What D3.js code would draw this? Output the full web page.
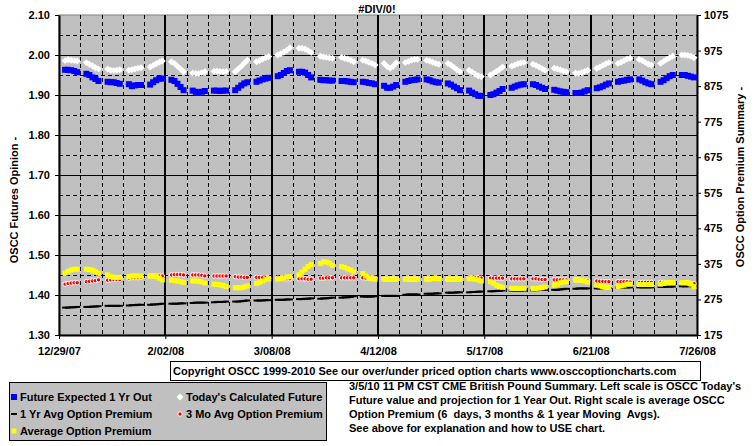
<!DOCTYPE html>
<html><head><meta charset="utf-8">
<script src="https://cdn.jsdelivr.net/npm/d3@7"></script>
<style>
body{margin:0;background:#fff;}
svg text{font-family:Arial,"Liberation Sans",sans-serif;font-weight:bold;font-size:11px;fill:#000;}
</style></head>
<body><svg id="c" width="755" height="446"></svg>
<script>
// ---- data (weekday observations, Mon..Fri, starting 12/31/07) ----
const startDate = new Date(2007, 11, 31);
const endDate = new Date(2008, 6, 26);
const futureExpected = [
1.963,1.963,1.962,1.960,1.957, 1.953,1.950,1.944,1.940,1.935, 1.933,1.932,1.932,1.930,1.928,
1.927,1.922,1.924,1.925,1.925, 1.926,1.932,1.937,1.941,1.941, 1.938,1.935,1.928,1.920,1.912,
1.911,1.908,1.905,1.908,1.910, 1.911,1.911,1.910,1.911,1.911, 1.912,1.918,1.924,1.929,1.932,
1.933,1.936,1.939,1.941,1.943, 1.947,1.950,1.955,1.960,1.962, 1.958,1.958,1.956,1.950,1.944,
1.938,1.937,1.937,1.936,1.936, 1.935,1.935,1.934,1.933,1.932, 1.933,1.932,1.930,1.929,1.927,
1.923,1.918,1.918,1.921,1.925, 1.933,1.935,1.937,1.938,1.939, 1.939,1.937,1.934,1.932,1.931,
1.929,1.926,1.921,1.917,1.912, 1.911,1.906,1.902,1.898,1.898, 1.900,1.902,1.906,1.910,1.915,
1.918,1.921,1.924,1.926,1.927, 1.927,1.925,1.921,1.918,1.915, 1.913,1.911,1.909,1.908,1.907,
1.905,1.905,1.906,1.909,1.912, 1.917,1.919,1.922,1.926,1.929, 1.933,1.935,1.936,1.938,1.939,
1.939,1.936,1.932,1.929,1.927, 1.933,1.937,1.942,1.947,1.950, 1.950,1.950,1.948,1.946,1.944];
const todaysFuture = [
1.986,1.988,1.987,1.986,1.985, 1.981,1.977,1.973,1.968,1.965, 1.965,1.962,1.961,1.962,1.963,
1.962,1.963,1.965,1.967,1.968, 1.970,1.974,1.978,1.982,1.985, 1.983,1.979,1.972,1.965,1.958,
1.955,1.954,1.954,1.956,1.958, 1.959,1.960,1.959,1.958,1.959, 1.958,1.965,1.972,1.980,1.987,
1.983,1.986,1.990,1.993,1.996, 2.000,2.003,2.007,2.012,2.018, 2.017,2.017,2.015,2.011,2.006,
1.997,1.995,1.994,1.993,1.992, 1.994,1.992,1.990,1.987,1.983, 1.987,1.985,1.982,1.979,1.975,
1.979,1.971,1.967,1.972,1.980, 1.981,1.984,1.987,1.989,1.989, 1.987,1.985,1.982,1.979,1.977,
1.979,1.975,1.969,1.963,1.958, 1.962,1.957,1.952,1.948,1.946, 1.950,1.954,1.959,1.964,1.970,
1.972,1.975,1.978,1.980,1.981, 1.977,1.974,1.970,1.966,1.962, 1.967,1.965,1.963,1.960,1.958,
1.955,1.954,1.956,1.959,1.962, 1.967,1.970,1.974,1.978,1.981, 1.979,1.982,1.986,1.990,1.992,
1.989,1.986,1.981,1.977,1.975, 1.979,1.984,1.989,1.993,1.997, 2.000,2.000,1.999,1.997,1.993];
const oneYrAvg = [
252,252,253,253,254, 254,254,255,255,256, 257,257,257,257,257, 258,259,259,260,260, 260,261,261,262,263,
263,263,263,264,264, 265,266,266,266,266, 267,268,268,268,269, 269,269,270,271,272, 272,272,272,273,273,
274,274,274,275,275, 276,276,277,277,278, 277,278,278,279,280, 280,281,281,282,284, 283,283,283,283,284,
285,285,285,285,285, 288,289,289,289,289, 291,291,291,292,292, 294,294,294,295,295, 295,296,296,297,297,
298,298,299,299,300, 300,300,300,300,300, 301,301,302,302,302, 302,302,303,304,305, 305,306,306,306,306,
306,306,307,307,307, 308,308,309,309,309, 309,309,309,309,309, 310,310,311,311,311, 312,312,312,313,313];
const threeMoAvg = [
318,320,321,322,322, 325,326,327,328,330, 329,330,331,331,331, 335,336,336,336,337, 340,341,341,341,341,
344,345,345,345,344, 344,344,344,343,341, 341,341,341,341,341, 339,338,338,337,337, 337,337,336,336,335,
335,334,333,333,333, 333,333,333,332,332, 335,335,336,336,336, 336,336,336,336,336, 336,335,335,335,335,
333,333,333,333,333, 333,333,333,333,333, 334,334,334,334,334, 333,333,333,333,333, 336,336,336,336,335,
335,335,335,335,335, 333,333,333,333,333, 333,333,332,331,331, 330,330,330,330,330, 330,330,329,329,328,
327,326,326,325,325, 325,325,325,325,324, 323,323,323,323,323, 323,323,322,322,322, 322,322,321,320,320];
const avgPremium = [
349,354,358,360,360, 360,359,357,353,349, 344,339,337,337,337, 339,341,341,341,341, 341,341,339,335,330,
329,328,327,325,323, 327,327,326,324,321, 318,317,316,314,311, 308,308,308,310,313, 320,323,327,331,333,
332,334,336,338,339, 344,352,360,368,373, 376,381,380,377,371, 367,365,361,358,353, 348,341,336,333,332,
332,332,332,332,332, 332,332,332,332,332, 332,332,334,335,333, 332,332,332,332,332, 333,333,332,330,327,
325,320,315,311,309, 306,306,306,306,306, 306,306,307,308,310, 315,318,322,324,325, 330,330,329,327,324,
315,313,311,309,309, 311,313,315,318,318, 317,317,317,317,317, 318,320,322,322,323, 322,322,322,318,311];
const leftTicks = [1.30,1.40,1.50,1.60,1.70,1.80,1.90,2.00,2.10];
const rightTicks = [175,275,375,475,575,675,775,875,975,1075];
const xTickLabels = ["12/29/07","2/02/08","3/08/08","4/12/08","5/17/08","6/21/08","7/26/08"];
const legendLabels = ["Future Expected 1 Yr Out","Today's Calculated Future","1 Yr Avg Option Premium","3 Mo Avg Option Premium","Average Option Premium"];
const titleText = "#DIV/0!";
const leftTitle = "OSCC Futures Opinion -";
const rightTitle = "OSCC Option Premium Summary -";
const copyrightText = "Copyright OSCC 1999-2010 See our over/under priced option charts www.osccoptioncharts.com";
const noteLines = ["3/5/10 11 PM CST CME British Pound Summary. Left scale is OSCC Today's",
 "Future value and projection for 1 Year Out. Right scale is average OSCC",
 "Option Premium (6  days, 3 months & 1 year Moving  Avgs).",
 "See above for explanation and how to USE chart."];

// ---- build ----
const parse = d3.timeParse("%m/%d/%y");
const tickDates = xTickLabels.map(parse);
const days = d3.timeDay.range(startDate, endDate).filter(d => d.getDay() > 0 && d.getDay() < 6);
const svg = d3.select("#c");
const L = 59, R = 697, T = 15, B = 335;
const x = d3.scaleTime().domain([tickDates[0], tickDates[tickDates.length-1]]).range([L, R]);
const yL = d3.scaleLinear().domain([1.3, 2.1]).range([B, T]);
const yR = d3.scaleLinear().domain([175, 1075]).range([B, T]);

svg.append("rect").attr("x", L).attr("y", T).attr("width", R-L).attr("height", B-T).attr("fill", "#c0c0c0").attr("stroke", "#808080");

// gridlines
const hVals = d3.range(27, 42).map(i => i*0.05);
svg.append("g").selectAll("line").data(hVals).join("line")
  .attr("x1", L).attr("x2", R)
  .attr("y1", d => Math.round(yL(d))+0.5).attr("y2", d => Math.round(yL(d))+0.5)
  .attr("stroke", "#000").attr("stroke-width", 1)
  .attr("stroke-dasharray", (d,i) => i % 2 === 0 ? "4,3" : null);
const weekLines = d3.timeSaturday.range(d3.timeDay.offset(tickDates[0], 1), tickDates[tickDates.length-1]);
const majorSet = new Set(tickDates.map(d => +d));
svg.append("g").selectAll("line").data(weekLines).join("line")
  .attr("y1", T).attr("y2", B)
  .attr("x1", d => majorSet.has(+d) ? Math.round(x(d)) : Math.round(x(d))+0.5)
  .attr("x2", d => majorSet.has(+d) ? Math.round(x(d)) : Math.round(x(d))+0.5)
  .attr("stroke", "#000")
  .attr("stroke-width", d => majorSet.has(+d) ? 2 : 1)
  .attr("stroke-dasharray", d => majorSet.has(+d) ? null : "4,3");

// axes
function styleAxis(g){
  g.select(".domain").attr("stroke", "#000").attr("stroke-width", 2);
  g.selectAll(".tick line").attr("stroke", "#000").attr("stroke-width", 1);
  g.selectAll("text").attr("font-size", 11).attr("font-weight", "bold").attr("font-family", "Arial,'Liberation Sans',sans-serif");
}
svg.append("g").attr("transform", `translate(${L},0)`)
  .call(d3.axisLeft(yL).tickValues(leftTicks).tickFormat(d3.format(".2f")).tickSize(4).tickSizeOuter(0).tickPadding(5))
  .call(styleAxis);
svg.append("g").attr("transform", `translate(${R},0)`)
  .call(d3.axisRight(yR).tickValues(rightTicks).tickFormat(d3.format("d")).tickSize(4).tickSizeOuter(0).tickPadding(3))
  .call(styleAxis);
svg.append("g").attr("transform", `translate(0,${B})`)
  .call(d3.axisBottom(x).tickValues(tickDates).tickFormat((d,i) => xTickLabels[i]).tickSize(4).tickSizeOuter(0).tickPadding(8))
  .call(styleAxis);

// series
const gS = svg.append("g");
gS.selectAll(".blue").data(futureExpected).join("rect")
  .attr("x", (d,i) => x(days[i]) - 3).attr("y", d => yL(d) - 3).attr("width", 6).attr("height", 6).attr("fill", "#0000ff");
gS.selectAll(".white").data(todaysFuture).join("path")
  .attr("d", d3.symbol(d3.symbolSquare, 24))
  .attr("transform", (d,i) => `translate(${x(days[i])},${yL(d)}) rotate(45)`).attr("fill", "#fff");
gS.selectAll(".black").data(oneYrAvg).join("rect")
  .attr("x", (d,i) => x(days[i]) - 3).attr("y", d => yR(d) - 1).attr("width", 6).attr("height", 2).attr("fill", "#000");
gS.selectAll(".red").data(threeMoAvg).join("circle")
  .attr("cx", (d,i) => x(days[i])).attr("cy", d => yR(d)).attr("r", 2.2)
  .attr("fill", "#ff0000").attr("stroke", "#fff").attr("stroke-width", 1);
gS.selectAll(".yellow").data(avgPremium).join("rect")
  .attr("x", (d,i) => x(days[i]) - 2.5).attr("y", d => yR(d) - 2.5).attr("width", 5).attr("height", 5).attr("fill", "#ffff00");

// titles
svg.append("text").attr("x", 377).attr("y", 13).attr("text-anchor", "middle").text(titleText);
svg.append("text").attr("transform", "translate(18,200) rotate(-90)").attr("text-anchor", "middle").text(leftTitle);
svg.append("text").attr("transform", "translate(744,177) rotate(-90)").attr("text-anchor", "middle").text(rightTitle);

// copyright box
svg.append("rect").attr("x", 170.5).attr("y", 361.5).attr("width", 530).attr("height", 19).attr("fill", "#fff").attr("stroke", "#000");
svg.append("text").attr("x", 173).attr("y", 375).text(copyrightText);

// legend
svg.append("rect").attr("x", 9.5).attr("y", 382.5).attr("width", 317).attr("height", 58).attr("fill", "#c0c0c0").attr("stroke", "#000");
const legPos = [[14,397],[180,397],[14,414],[180,414],[14,431]];
const lg = svg.append("g");
legendLabels.forEach((t,i) => {
  const [lx, ly] = legPos[i];
  lg.append("text").attr("x", lx + 6).attr("y", ly + 4).text(t);
});
lg.append("rect").attr("x", legPos[0][0]-3).attr("y", legPos[0][1]-3).attr("width", 6).attr("height", 6).attr("fill", "#0000ff");
lg.append("path").attr("d", d3.symbol(d3.symbolSquare, 24)).attr("transform", `translate(${legPos[1][0]},${legPos[1][1]}) rotate(45)`).attr("fill", "#fff");
lg.append("rect").attr("x", legPos[2][0]-3).attr("y", legPos[2][1]-1).attr("width", 6).attr("height", 2).attr("fill", "#000");
lg.append("circle").attr("cx", legPos[3][0]).attr("cy", legPos[3][1]).attr("r", 2.2).attr("fill", "#f00").attr("stroke", "#fff");
lg.append("rect").attr("x", legPos[4][0]-2.5).attr("y", legPos[4][1]-2.5).attr("width", 5).attr("height", 5).attr("fill", "#ffff00");

// notes
svg.append("g").selectAll("text").data(noteLines).join("text")
  .attr("x", 349).attr("y", (d,i) => 390 + i*14).attr("xml:space", "preserve").style("white-space", "pre").text(d => d);
</script></body></html>
